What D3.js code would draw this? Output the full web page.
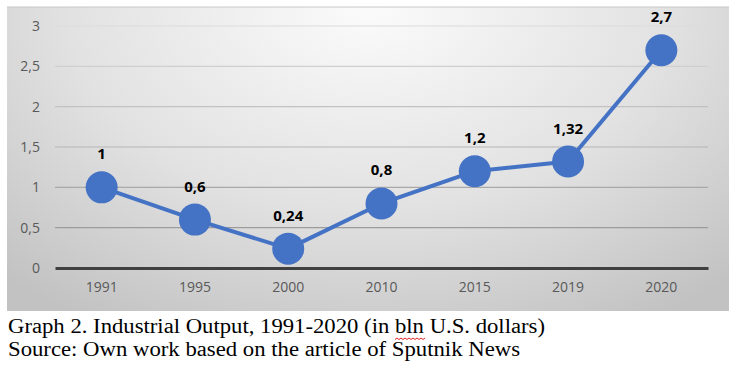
<!DOCTYPE html>
<html>
<head>
<meta charset="utf-8">
<script src="https://cdn.jsdelivr.net/npm/d3@7"></script>
<style>
  body { margin: 0; background: #fff; }
  svg { display: block; }
</style>
</head>
<body>
<svg id="chart" width="740" height="367"></svg>
<script>
// data
var years = ["1991", "1995", "2000", "2010", "2015", "2019", "2020"];
var output = [1, 0.6, 0.24, 0.8, 1.2, 1.32, 2.7];
var outputLabels = ["1", "0,6", "0,24", "0,8", "1,2", "1,32", "2,7"];
var yTicks = [0, 0.5, 1, 1.5, 2, 2.5, 3];
var captionPre = "Graph 2. Industrial Output, 1991-2020 (in ";
var captionWord = "bln";
var captionPost = " U.S. dollars)";
var sourceLine = "Source: Own work based on the article of Sputnik News";

var svg = d3.select("#chart");

var boxX = 7, boxY = 7, boxW = 722, boxH = 304;
var plotLeft = 55, plotRight = 708, plotTop = 26, plotBottom = 268;

var defs = svg.append("defs");
var grad = defs.append("radialGradient")
    .attr("id", "bg")
    .attr("cx", "50%").attr("cy", "0%")
    .attr("r", "75%")
    .attr("gradientTransform", "translate(0.5,0) scale(1,1.6) translate(-0.5,0)");
grad.append("stop").attr("offset", "0%").attr("stop-color", "#fbfbfb");
grad.append("stop").attr("offset", "55%").attr("stop-color", "#e2e2e2");
grad.append("stop").attr("offset", "100%").attr("stop-color", "#c2c2c2");

svg.append("rect")
    .attr("x", boxX).attr("y", boxY)
    .attr("width", boxW).attr("height", boxH)
    .attr("fill", "url(#bg)");
svg.append("line")
    .attr("x1", boxX).attr("x2", boxX + boxW)
    .attr("y1", boxY).attr("y2", boxY)
    .style("stroke", "#c8c8c8").style("stroke-width", 1);

var x = d3.scaleBand().domain(years).range([plotLeft, plotRight]);
var y = d3.scaleLinear().domain([0, 3]).range([plotBottom, plotTop]);

var gridColor = d3.scaleLinear().domain([3, 0.5]).range(["#dcdcdc", "#9c9c9c"]);

// gridlines
svg.append("g").selectAll("line")
    .data(yTicks.filter(function(d){ return d > 0; }))
    .enter().append("line")
    .attr("x1", plotLeft).attr("x2", plotRight)
    .attr("y1", function(d){ return y(d); })
    .attr("y2", function(d){ return y(d); })
    .style("stroke", function(d){ return gridColor(d); })
    .style("stroke-width", 1.2);

var tickFont = "'Open Sans', 'DejaVu Sans', sans-serif";

// y axis labels
var yAxis = d3.axisLeft(y)
    .tickValues(yTicks)
    .tickSize(0)
    .tickPadding(0)
    .tickFormat(function(d){ return String(d).replace(".", ","); });
var gy = svg.append("g")
    .attr("transform", "translate(40,0)")
    .call(yAxis);
gy.select(".domain").remove();
gy.selectAll("text")
    .style("font-family", tickFont)
    .style("font-size", "14px")
    .style("fill", "#595959");

// x axis
var xAxis = d3.axisBottom(x).tickSize(0).tickPadding(14);
var gx = svg.append("g")
    .attr("transform", "translate(0," + plotBottom + ")")
    .call(xAxis);
gx.select(".domain")
    .style("stroke", "#404040")
    .style("stroke-width", 3);
gx.selectAll("text")
    .style("font-family", tickFont)
    .style("font-size", "14px")
    .style("fill", "#595959");

var cx = function(d, i){ return x(years[i]) + x.bandwidth() / 2; };

// line
var line = d3.line()
    .x(function(d, i){ return cx(d, i); })
    .y(function(d){ return y(d); });
svg.append("path")
    .datum(output)
    .attr("d", line)
    .style("fill", "none")
    .style("stroke", "#4472c4")
    .style("stroke-width", 4)
    .style("stroke-linejoin", "round");

// markers
svg.append("g").selectAll("circle")
    .data(output)
    .enter().append("circle")
    .attr("cx", cx)
    .attr("cy", function(d){ return y(d); })
    .attr("r", 16)
    .style("fill", "#4472c4");

// data labels
svg.append("g").selectAll("text")
    .data(output)
    .enter().append("text")
    .attr("x", cx)
    .attr("y", function(d){ return y(d) - 28; })
    .attr("text-anchor", "middle")
    .style("font-family", tickFont)
    .style("font-size", "15px")
    .style("font-weight", "bold")
    .style("fill", "#000")
    .text(function(d, i){ return outputLabels[i]; });

// caption
var cap = svg.append("g")
    .style("font-family", "'Liberation Serif', 'Times New Roman', serif")
    .style("font-size", "20px")
    .style("fill", "#000");

var line1W = 537, line2W = 512;

var t1 = cap.append("text").attr("x", 8).attr("y", 333);
t1.append("tspan").text(captionPre);
t1.append("tspan").text(captionWord);
t1.append("tspan").text(captionPost);
var fullW = t1.node().getComputedTextLength();
var preW = t1.node().getSubStringLength(0, captionPre.length);
var wordW = t1.node().getSubStringLength(captionPre.length, captionWord.length);
t1.attr("textLength", line1W).attr("lengthAdjust", "spacingAndGlyphs");

cap.append("text").attr("x", 8).attr("y", 356)
    .attr("textLength", line2W).attr("lengthAdjust", "spacingAndGlyphs")
    .text(sourceLine);

// red spell-check squiggle under "bln"
var k = line1W / fullW;
var sx = 8 + preW * k, sw = wordW * k;
var pts = [];
for (var j = 0; j <= Math.round(sw / 2); j++) {
  pts.push([sx + j * 2, 338 + (j % 2 ? 0 : 1.5)]);
}
svg.append("path")
    .attr("d", d3.line()(pts))
    .style("fill", "none")
    .style("stroke", "#e0201c")
    .style("stroke-width", 1);
</script>
</body>
</html>
